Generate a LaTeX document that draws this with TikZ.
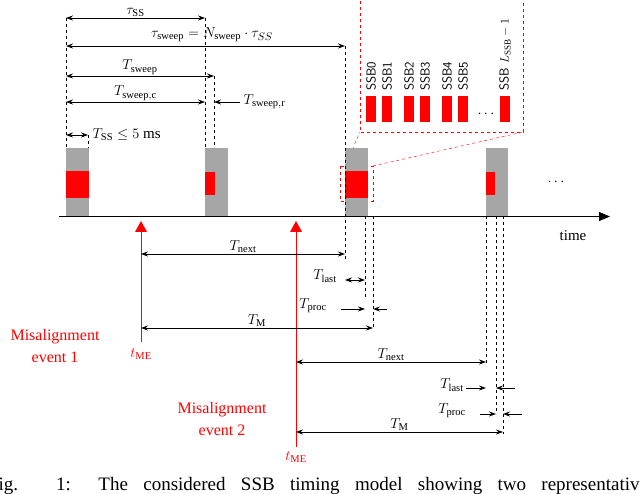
\documentclass[tikz,border=0pt]{standalone}
\usepackage{fontspec}
\setmainfont{Liberation Serif}
\setsansfont{Latin Modern Sans}
\usetikzlibrary{arrows.meta}
\begin{document}
\begin{tikzpicture}[x=1pt,y=-1pt,font=\fontsize{15}{17}\selectfont,
  dim/.style={{Stealth[length=7pt,width=5pt]}-{Stealth[length=7pt,width=5pt]},thick},
  pt/.style={-{Stealth[length=7pt,width=5pt]},thick},
  guide/.style={dashed,thin},
  block/.style={fill=black!35},
  burst/.style={fill=red},
  ev/.style={red,thick},
  evtext/.style={red,align=center,font=\fontsize{16}{22}\selectfont},
  ssb/.style={fill=red},
  ssbl/.style={rotate=90,anchor=west,font=\sffamily\fontsize{13}{15}\selectfont,inner sep=1pt}]
\useasboundingbox (0,0) rectangle (640,494);
\begin{scope}
\clip (0,0) rectangle (640,494);
% inset
\draw[red,dashed] (360,-5) -- (360,132) -- (523,132) -- (523,-5);
\draw[red,dashed] (340,166) rectangle (373,201);
\draw[red,dashed] (345,166) -- (360,132);
\draw[red,dashed] (373,166) -- (523,132);
\foreach \a/\n in {366/0,382/1,404/2,420/3,442/4,458/5}{
  \fill[ssb] (\a,96) rectangle ++(10,26);
  \node[ssbl] (s\n) at (\a+5,92) {SSB\n};}
\fill[ssb] (500,96) rectangle ++(10,26);
\node[ssbl] (sl) at (505,92) {SSB $L_{\mathrm{SSB}}-1$};
\node (dots1) at (486,114) {$\cdots$};
% blocks
\fill[block] (66,148) rectangle (89,216);
\fill[burst] (66,171) rectangle (89,198);
\fill[block] (205,148) rectangle (228,216);
\fill[burst] (205,172) rectangle (215,195);
\fill[block] (345,148) rectangle (368,216);
\fill[burst] (345,171) rectangle (368,198);
\fill[block] (486,148) rectangle (508,216);
\fill[burst] (486,172) rectangle (495,195);
\node (dots2) at (556,182) {$\cdots$};
% time axis
\draw[-{Triangle[length=11pt,width=9pt]},thick] (59,216.5) -- (610,216.5);
\node (time) at (573,236) {time};
% guides
\draw[guide] (66,18) -- (66,148);
\draw[guide] (205,18) -- (205,148);
\draw[guide] (214,76) -- (214,148);
\draw[guide] (88,135) -- (88,148);
\draw[guide] (345,46) -- (345,261);
\draw[guide] (365,216) -- (365,298);
\draw[guide] (373,216) -- (373,330);
\draw[guide] (486,216) -- (486,366);
\draw[guide] (496,216) -- (496,414);
\draw[guide] (503,216) -- (503,434);
% upper dimensions
\draw[dim] (66,18) -- node[above=-2pt] {$\tau_{\mathrm{SS}}$} (205,18);
\draw[dim] (66,46) -- (345,46);
\node (tsw) at (212,35) {$\tau_{\mathrm{sweep}}=N_{\mathrm{sweep}}\cdot\tau_{SS}$};
\draw[dim] (66,76) -- node[above=-2pt] {$T_{\mathrm{sweep}}$} (214,76);
\draw[dim] (66,102) -- node[above=-2pt] {$T_{\mathrm{sweep,c}}$} (205,102);
\draw[pt] (240,102) -- (214,102) node[right=26pt] {$T_{\mathrm{sweep,r}}$};
\draw[dim] (66,135) -- (88,135) node[right=1pt] {$T_{\mathrm{SS}}\leq 5$ ms};
% misalignment events
\draw[ev] (141,226) -- (141,342);
\fill[red] (141,221) -- (147,232) -- (135,232) -- cycle;
\draw[ev] (296,226) -- (296,447);
\fill[red] (296,221) -- (302,232) -- (290,232) -- cycle;
\node[evtext] (e1) at (55,346) {Misalignment\\event 1};
\node[red] (t1) at (141,354) {$t_{\mathrm{ME}}$};
\node[evtext] (e2) at (222,419) {Misalignment\\event 2};
\node[red] (t2) at (296,457) {$t_{\mathrm{ME}}$};
% event 1 dimensions
\draw[dim] (141,254) -- node[above=-2pt] {$T_{\mathrm{next}}$} (345,254);
\draw[dim] (345,280) -- (365,280);
\node (tl1) at (325,276) {$T_{\mathrm{last}}$};
\draw[pt] (341,309) -- (365,309);
\draw[pt] (387,309) -- (373,309);
\node (tp1) at (313,306) {$T_{\mathrm{proc}}$};
\draw[dim] (141,328) -- node[above=-2pt] {$T_{\mathrm{M}}$} (373,328);
% event 2 dimensions
\draw[dim] (296,362) -- node[above=-2pt] {$T_{\mathrm{next}}$} (486,362);
\draw[pt] (466,388) -- (486,388);
\draw[pt] (515,388) -- (496,388);
\node (tl2) at (452,385) {$T_{\mathrm{last}}$};
\draw[pt] (480,414) -- (496,414);
\draw[pt] (522,414) -- (503,414);
\node (tp2) at (452,411) {$T_{\mathrm{proc}}$};
\draw[dim] (296,432) -- node[above=-2pt] {$T_{\mathrm{M}}$} (503,432);
% caption (cut by the frame)
\node (cap) at (318,486) {\fontsize{19}{21}\selectfont\makebox[660pt][s]{Fig. 1: The considered SSB timing model showing two representative}};
\end{scope}
\end{tikzpicture}
\end{document}
